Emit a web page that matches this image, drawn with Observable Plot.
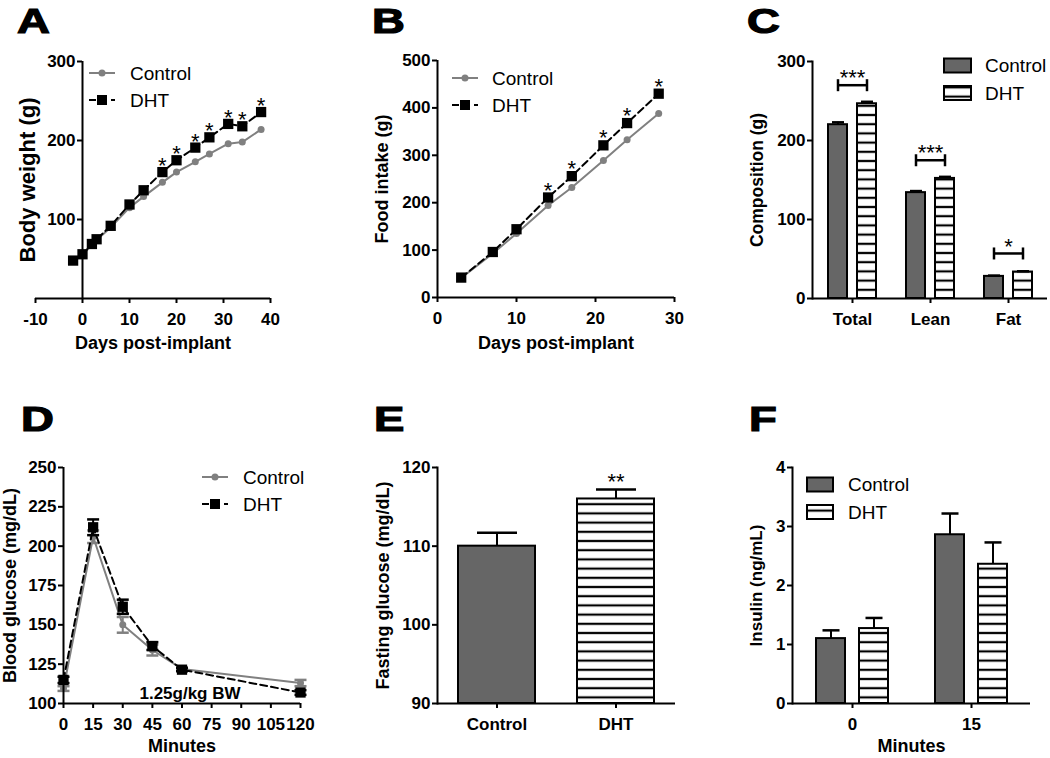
<!DOCTYPE html>
<html>
<head>
<meta charset="utf-8">
<script src="https://cdn.jsdelivr.net/npm/d3@7"></script>
<script src="https://cdn.jsdelivr.net/npm/@observablehq/plot@0.6"></script>
<style>
  html, body { margin: 0; padding: 0; background: #fff; }
  #fig { position: relative; width: 1050px; height: 758px; background: #fff; overflow: hidden; }
  #fig > svg { position: absolute; }
</style>
</head>
<body>
<svg width="0" height="0" style="position:absolute;left:0;top:0">
  <defs>
    <pattern id="hatch" patternUnits="userSpaceOnUse" width="12" height="9.2">
      <rect width="12" height="9.2" fill="#fff"></rect>
      <rect y="3.5" width="12" height="2.2" fill="#000"></rect>
    </pattern>
  </defs>
</svg>
<div id="fig"></div>
<script>
// ---------------- data ----------------
const seriesNames = ["Control", "DHT"];

// A: body weight
const daysA = [-2, 0, 2, 3, 6, 10, 13, 17, 20, 24, 27, 31, 34, 38];
const bwControl = [47, 55, 68, 74, 90, 115, 129, 147, 160, 173, 183, 196, 198, 214];
const bwDHT = [48, 56, 69, 75, 92, 119, 137, 160, 175, 191, 204, 221, 218, 236];
const bwStarDays = [17, 20, 24, 27, 31, 34, 38];
const bwXTicks = [-10, 0, 10, 20, 30, 40];
const bwYTicks = [100, 200, 300];

// B: food intake
const daysB = [3, 7, 10, 14, 17, 21, 24, 28];
const fiControl = [41, 93, 135, 194, 232, 289, 333, 388];
const fiDHT = [42, 96, 144, 211, 256, 321, 368, 430];
const fiStarDays = [14, 17, 21, 24, 28];
const fiXTicks = [0, 10, 20, 30];
const fiYTicks = [0, 100, 200, 300, 400, 500];

// C: body composition
const compCategories = ["Total", "Lean", "Fat"];
const compControl = [220, 134, 28];
const compControlSEM = [3, 2, 1];
const compDHT = [246.5, 152, 33.5];
const compDHTSEM = [2.5, 2, 1];
const compSig = ["***", "***", "*"];
const compBracket = [270, 175, 57];
const compYTicks = [0, 100, 200, 300];

// D: glucose tolerance
const minutesD = [0, 15, 30, 45, 60, 120];
const gluControl = [109.5, 206, 150, 134, 122, 113];
const gluControlSEM = [1.5, 4, 5, 3.5, 1, 2];
const gluDHT = [115, 212, 161.5, 136.5, 121.5, 107];
const gluDHTSEM = [2, 5, 4.5, 2.5, 1, 1.5];
const gluXTicks = [0, 15, 30, 45, 60, 75, 90, 105, 120];
const gluYTicks = [100, 125, 150, 175, 200, 225, 250];
const gluNote = "1.25g/kg BW";

// E: fasting glucose
const fastGroups = ["Control", "DHT"];
const fastMean = [110, 116];
const fastSEM = [1.7, 1.2];
const fastSig = ["", "**"];
const fastYTicks = [90, 100, 110, 120];

// F: insulin
const insMinutes = ["0", "15"];
const insControl = [1.10, 2.86];
const insControlSEM = [0.14, 0.36];
const insDHT = [1.27, 2.36];
const insDHTSEM = [0.18, 0.37];
const insYTicks = [0, 1, 2, 3, 4];

// ---------------- styles / helpers ----------------
const FONT = "'Liberation Sans', Arial, Helvetica, sans-serif";
const GRAY_LINE = "#808080";
const GRAY_BAR = "#666666";
const DASH = "7,4";
const baseStyle = {fontFamily: FONT, background: "transparent", color: "#000", overflow: "visible"};

const hBar = w => ({draw(ctx) { ctx.moveTo(-w, 0); ctx.lineTo(w, 0); }});
const vBar = h => ({draw(ctx) { ctx.moveTo(0, -h); ctx.lineTo(0, h); }});

function axY(o) { return Plot.axisY({tickSize: 5, tickPadding: 2, strokeWidth: 2, label: null, fontSize: 17, fontWeight: "bold", tickFormat: d => String(d), ...o}); }
function axX(o) { return Plot.axisX({tickSize: 5, tickPadding: 9, strokeWidth: 2, label: null, fontSize: 17, fontWeight: "bold", ...o}); }
function yTitle(t, dx, size) { return Plot.text([t], {text: d => d, frameAnchor: "left", textAnchor: "middle", lineAnchor: "middle", dx, rotate: -90, fontSize: size, fontWeight: "bold"}); }
function xTitle(t, dy, size) { return Plot.text([t], {text: d => d, frameAnchor: "bottom", textAnchor: "middle", lineAnchor: "middle", dy, fontSize: size, fontWeight: "bold"}); }

const fig = document.getElementById("fig");
function place(el, left, top) { el.style.position = "absolute"; el.style.left = left + "px"; el.style.top = top + "px"; fig.appendChild(el); }

function lineSeries(rows, xk, cKey, dKey) {
  return [
    Plot.line(rows, {x: xk, y: cKey, stroke: GRAY_LINE, strokeWidth: 2}),
    Plot.dot(rows, {x: xk, y: cKey, r: 3.5, fill: GRAY_LINE, stroke: "none"}),
    Plot.line(rows, {x: xk, y: dKey, stroke: "#000", strokeWidth: 2, strokeDasharray: DASH}),
    Plot.dot(rows, {x: xk, y: dKey, symbol: "square", r: 5.8, fill: "#000", stroke: "none"})
  ];
}

// ---------------- Panel A ----------------
{
  const rows = daysA.map((day, i) => ({day, control: bwControl[i], dht: bwDHT[i]}));
  const stars = rows.filter(d => bwStarDays.includes(d.day));
  const W = 350, H = 380, mL = 35, mR = 80;
  const yAxisOffset = d3.scaleLinear([-10, 40], [0, W - mL - mR])(0);
  const p = Plot.plot({
    width: W, height: H, marginLeft: mL, marginRight: mR, marginTop: 61, marginBottom: 82,
    x: {domain: [-10, 40]}, y: {domain: [0, 300]}, style: baseStyle,
    marks: [
      ...lineSeries(rows, "day", "control", "dht"),
      Plot.text(stars, {x: "day", y: "dht", text: () => "*", dy: -6, fontSize: 22}),
      Plot.ruleY([0], {strokeWidth: 2}),
      Plot.ruleX([0], {y1: 0, y2: 300, strokeWidth: 2}),
      axX({ticks: bwXTicks, tickFormat: d => String(d)}),
      axY({ticks: bwYTicks, dx: yAxisOffset}),
      yTitle("Body weight (g)", -8, 22),
      xTitle("Days post-implant", 45, 18)
    ]
  });
  place(p, 0, 0);
}

// ---------------- Panel B ----------------
{
  const rows = daysB.map((day, i) => ({day, control: fiControl[i], dht: fiDHT[i]}));
  const stars = rows.filter(d => fiStarDays.includes(d.day));
  const p = Plot.plot({
    width: 350, height: 380, marginLeft: 87, marginRight: 26, marginTop: 60, marginBottom: 83,
    x: {domain: [0, 30]}, y: {domain: [0, 500]}, style: baseStyle,
    marks: [
      ...lineSeries(rows, "day", "control", "dht"),
      Plot.text(stars, {x: "day", y: "dht", text: () => "*", dy: -7, fontSize: 22}),
      Plot.ruleY([0], {strokeWidth: 2}),
      Plot.ruleX([0], {y1: 0, y2: 500, strokeWidth: 2}),
      axX({ticks: fiXTicks, tickFormat: d => String(d)}),
      axY({ticks: fiYTicks}),
      yTitle("Food intake (g)", -55, 18),
      xTitle("Days post-implant", 46, 18)
    ]
  });
  place(p, 350, 0);
}

// ---------------- Panel C ----------------
{
  const rows = compCategories.map((cat, i) => ({cat, control: compControl[i], cSem: compControlSEM[i], dht: compDHT[i], dSem: compDHTSEM[i], bracket: compBracket[i], sig: compSig[i]}));
  const ins = 29, off = 14.5;
  const p = Plot.plot({
    width: 350, height: 380, marginLeft: 112, marginRight: 3, marginTop: 61, marginBottom: 82,
    x: {domain: compCategories, paddingInner: 0.39, paddingOuter: 0.195},
    y: {domain: [0, 300]}, style: baseStyle,
    marks: [
      Plot.barY(rows, {x: "cat", y: "control", fill: GRAY_BAR, stroke: "#000", strokeWidth: 2, insetRight: ins}),
      Plot.barY(rows, {x: "cat", y: "dht", fill: "url(#hatch)", stroke: "#000", strokeWidth: 2, insetLeft: ins}),
      Plot.ruleX(rows, {x: "cat", y1: "control", y2: d => d.control + d.cSem, dx: -off, strokeWidth: 2}),
      Plot.dot(rows, {x: "cat", y: d => d.control + d.cSem, dx: -off, symbol: hBar(6), r: 1, fill: "none", stroke: "#000", strokeWidth: 2.5}),
      Plot.ruleX(rows, {x: "cat", y1: "dht", y2: d => d.dht + d.dSem, dx: off, strokeWidth: 2}),
      Plot.dot(rows, {x: "cat", y: d => d.dht + d.dSem, dx: off, symbol: hBar(6), r: 1, fill: "none", stroke: "#000", strokeWidth: 2.5}),
      Plot.dot(rows, {x: "cat", y: "bracket", symbol: hBar(off), r: 1, fill: "none", stroke: "#000", strokeWidth: 2.5}),
      Plot.dot(rows, {x: "cat", y: "bracket", dx: -off, symbol: vBar(6), r: 1, fill: "none", stroke: "#000", strokeWidth: 2.5}),
      Plot.dot(rows, {x: "cat", y: "bracket", dx: off, symbol: vBar(6), r: 1, fill: "none", stroke: "#000", strokeWidth: 2.5}),
      Plot.text(rows, {x: "cat", y: "bracket", text: "sig", dy: -7, fontSize: 22}),
      Plot.ruleY([0], {strokeWidth: 2}),
      Plot.frame({anchor: "left", strokeWidth: 2}),
      axX({}),
      axY({ticks: compYTicks}),
      yTitle("Composition (g)", -55, 17.5)
    ]
  });
  place(p, 700, 0);
}

// ---------------- Panel D ----------------
{
  const rows = minutesD.map((m, i) => ({m, control: gluControl[i], cSem: gluControlSEM[i], dht: gluDHT[i], dSem: gluDHTSEM[i]}));
  const errMarks = (key, semKey, color) => [
    Plot.ruleX(rows, {x: "m", y1: d => d[key] - d[semKey], y2: d => d[key] + d[semKey], stroke: color, strokeWidth: 2}),
    Plot.dot(rows, {x: "m", y: d => d[key] - d[semKey], symbol: hBar(6), r: 1, fill: "none", stroke: color, strokeWidth: 2.5}),
    Plot.dot(rows, {x: "m", y: d => d[key] + d[semKey], symbol: hBar(6), r: 1, fill: "none", stroke: color, strokeWidth: 2.5})
  ];
  const p = Plot.plot({
    width: 350, height: 378, marginLeft: 63, marginRight: 50, marginTop: 87, marginBottom: 55,
    x: {domain: [0, 120]}, y: {domain: [100, 250]}, style: baseStyle,
    marks: [
      ...errMarks("control", "cSem", GRAY_LINE),
      Plot.line(rows, {x: "m", y: "control", stroke: GRAY_LINE, strokeWidth: 2}),
      Plot.dot(rows, {x: "m", y: "control", r: 3.5, fill: GRAY_LINE, stroke: "none"}),
      ...errMarks("dht", "dSem", "#000"),
      Plot.line(rows, {x: "m", y: "dht", stroke: "#000", strokeWidth: 2, strokeDasharray: DASH}),
      Plot.dot(rows, {x: "m", y: "dht", symbol: "square", r: 5.8, fill: "#000", stroke: "none"}),
      Plot.text([gluNote], {text: d => d, frameAnchor: "bottom", textAnchor: "middle", lineAnchor: "middle", dx: 8, dy: -10, fontSize: 17, fontWeight: "bold"}),
      Plot.ruleY([100], {strokeWidth: 2}),
      Plot.ruleX([0], {y1: 100, y2: 250, strokeWidth: 2}),
      axX({ticks: gluXTicks, tickFormat: d => String(d)}),
      axY({ticks: gluYTicks}),
      yTitle("Blood glucose (mg/dL)", -53, 18),
      xTitle("Minutes", 43, 18)
    ]
  });
  place(p, 0, 380);
}

// ---------------- Panel E ----------------
{
  const rows = fastGroups.map((g, i) => ({g, mean: fastMean[i], sem: fastSEM[i], sig: fastSig[i]}));
  const p = Plot.plot({
    width: 350, height: 378, marginLeft: 87, marginRight: 25, marginTop: 87, marginBottom: 55,
    x: {domain: fastGroups, paddingInner: 0.355, paddingOuter: 0.1775},
    y: {domain: [90, 120]}, style: baseStyle,
    marks: [
      Plot.barY(rows.filter(d => d.g === seriesNames[0]), {x: "g", y1: 90, y2: "mean", fill: GRAY_BAR, stroke: "#000", strokeWidth: 2}),
      Plot.barY(rows.filter(d => d.g === seriesNames[1]), {x: "g", y1: 90, y2: "mean", fill: "url(#hatch)", stroke: "#000", strokeWidth: 2}),
      Plot.ruleX(rows, {x: "g", y1: "mean", y2: d => d.mean + d.sem, strokeWidth: 2}),
      Plot.dot(rows, {x: "g", y: d => d.mean + d.sem, symbol: hBar(20), r: 1, fill: "none", stroke: "#000", strokeWidth: 2.5}),
      Plot.text(rows, {x: "g", y: d => d.mean + d.sem, text: "sig", dy: -8, fontSize: 22}),
      Plot.ruleY([90], {strokeWidth: 2}),
      Plot.frame({anchor: "left", strokeWidth: 2}),
      axX({}),
      axY({ticks: fastYTicks}),
      yTitle("Fasting glucose (mg/dL)", -54, 18)
    ]
  });
  place(p, 350, 380);
}

// ---------------- Panel F ----------------
{
  const rows = insMinutes.map((m, i) => ({m, control: insControl[i], cSem: insControlSEM[i], dht: insDHT[i], dSem: insDHTSEM[i]}));
  const ins = 43, off = 21.5;
  const p = Plot.plot({
    width: 350, height: 378, marginLeft: 92, marginRight: 20, marginTop: 87, marginBottom: 55,
    x: {domain: insMinutes, paddingInner: 0.395, paddingOuter: 0.1975},
    y: {domain: [0, 4]}, style: baseStyle,
    marks: [
      Plot.barY(rows, {x: "m", y: "control", fill: GRAY_BAR, stroke: "#000", strokeWidth: 2, insetRight: ins}),
      Plot.barY(rows, {x: "m", y: "dht", fill: "url(#hatch)", stroke: "#000", strokeWidth: 2, insetLeft: ins}),
      Plot.ruleX(rows, {x: "m", y1: "control", y2: d => d.control + d.cSem, dx: -off, strokeWidth: 2}),
      Plot.dot(rows, {x: "m", y: d => d.control + d.cSem, dx: -off, symbol: hBar(8.5), r: 1, fill: "none", stroke: "#000", strokeWidth: 2.5}),
      Plot.ruleX(rows, {x: "m", y1: "dht", y2: d => d.dht + d.dSem, dx: off, strokeWidth: 2}),
      Plot.dot(rows, {x: "m", y: d => d.dht + d.dSem, dx: off, symbol: hBar(8.5), r: 1, fill: "none", stroke: "#000", strokeWidth: 2.5}),
      Plot.ruleY([0], {strokeWidth: 2}),
      Plot.frame({anchor: "left", strokeWidth: 2}),
      axX({}),
      axY({ticks: insYTicks}),
      yTitle("Insulin (ng/mL)", -36, 17),
      xTitle("Minutes", 43, 18)
    ]
  });
  place(p, 700, 380);
}

// ---------------- overlay: panel letters and legends ----------------
const ov = d3.select("#fig").append("svg")
  .attr("width", 1050).attr("height", 758)
  .style("left", "0px").style("top", "0px")
  .style("font-family", FONT);

[["A", 17, 33], ["B", 372, 33], ["C", 747, 33], ["D", 21, 431], ["E", 374, 431], ["F", 749, 431]]
  .forEach(([t, x, y]) => ov.append("text")
    .attr("transform", `translate(${x},${y}) scale(1.3,1)`)
    .attr("font-size", 35).attr("font-weight", "bold").attr("fill", "#000")
    .attr("stroke", "#000").attr("stroke-width", 1.2).text(t));

function lineLegend(x0, x1, xText, yC, yD) {
  const xm = (x0 + x1) / 2;
  ov.append("line").attr("x1", x0).attr("x2", x1).attr("y1", yC).attr("y2", yC).attr("stroke", GRAY_LINE).attr("stroke-width", 2);
  ov.append("circle").attr("cx", xm).attr("cy", yC).attr("r", 3.5).attr("fill", GRAY_LINE);
  ov.append("text").attr("x", xText).attr("y", yC).attr("dy", "0.35em").attr("font-size", 19).text(seriesNames[0]);
  ov.append("line").attr("x1", x0).attr("x2", x1).attr("y1", yD).attr("y2", yD).attr("stroke", "#000").attr("stroke-width", 2).attr("stroke-dasharray", DASH);
  ov.append("rect").attr("x", xm - 5).attr("y", yD - 5).attr("width", 10).attr("height", 10).attr("fill", "#000");
  ov.append("text").attr("x", xText).attr("y", yD).attr("dy", "0.35em").attr("font-size", 19).text(seriesNames[1]);
}
function boxLegend(x0, x1, xText, yC, yD, h) {
  ov.append("rect").attr("x", x0).attr("y", yC - h / 2).attr("width", x1 - x0).attr("height", h).attr("fill", GRAY_BAR).attr("stroke", "#000").attr("stroke-width", 2);
  ov.append("text").attr("x", xText).attr("y", yC).attr("dy", "0.35em").attr("font-size", 19).text(seriesNames[0]);
  ov.append("rect").attr("x", x0).attr("y", yD - h / 2).attr("width", x1 - x0).attr("height", h).attr("fill", "url(#hatch)").attr("stroke", "#000").attr("stroke-width", 2);
  ov.append("text").attr("x", xText).attr("y", yD).attr("dy", "0.35em").attr("font-size", 19).text(seriesNames[1]);
}
lineLegend(89, 115, 130, 73, 100);
lineLegend(452, 478, 492, 78, 105);
lineLegend(202, 228, 243, 477, 504);
boxLegend(944, 971, 985, 65.5, 93, 14);
boxLegend(807, 833, 848, 484.5, 512, 14);
</script>
</body>
</html>
